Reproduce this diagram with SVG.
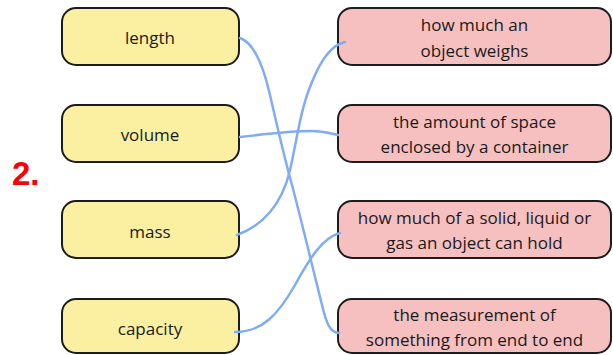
<svg xmlns="http://www.w3.org/2000/svg" width="613" height="355" viewBox="0 0 613 355">
<style>
.box{stroke:#1c1c1c;stroke-width:2}
.y{fill:#fbf0a2}
.p{fill:#f6c0c0}
.t{font-family:"Open Sans","Noto Sans",sans-serif;font-size:17px;fill:#1a1a1a;text-anchor:middle}
.c{fill:none;stroke:#80acf6;stroke-width:2.5;stroke-linecap:round}
</style>
<rect width="613" height="355" fill="#ffffff"/>
<text x="12" y="185" font-family="Liberation Sans, Arial, sans-serif" font-weight="bold" font-size="33" fill="#ff0000">2.</text>
<g id="n-length"><rect class="box y" x="62" y="8" width="177" height="57" rx="14"/><text class="t" x="150" y="44">length</text></g>
<g id="n-volume"><rect class="box y" x="62" y="105" width="177" height="57" rx="14"/><text class="t" x="150" y="141">volume</text></g>
<g id="n-mass"><rect class="box y" x="62" y="201" width="177" height="57" rx="14"/><text class="t" x="150" y="238">mass</text></g>
<g id="n-capacity"><rect class="box y" x="62" y="299" width="177" height="54" rx="14"/><text class="t" x="150" y="335">capacity</text></g>
<g id="d-weighs"><rect class="box p" x="338" y="8" width="273" height="57" rx="14"/><text class="t" x="474.5" y="31">how much an</text><text class="t" x="474.5" y="57">object weighs</text></g>
<g id="d-space"><rect class="box p" x="338" y="105" width="273" height="57" rx="14"/><text class="t" x="474.5" y="128">the amount of space</text><text class="t" x="474.5" y="153">enclosed by a container</text></g>
<g id="d-hold"><rect class="box p" x="338" y="201" width="273" height="57" rx="14"/><text class="t" x="474.5" y="224">how much of a solid, liquid or</text><text class="t" x="474.5" y="249">gas an object can hold</text></g>
<g id="d-end"><rect class="box p" x="338" y="299" width="273" height="54" rx="14"/><text class="t" x="474.5" y="321">the measurement of</text><text class="t" x="474.5" y="346">something from end to end</text></g>
<g id="connectors">
<path class="c" d="M240,38 C252,42 262,60 270,95 C278,130 285,160 292,185 C300,215 312,265 322,305 C326,322 330,333 339,333"/>
<path class="c" d="M240,137 C265,134 290,131 312,131 C325,131 332,134 338,135"/>
<path class="c" d="M237,235 C262,226 282,205 290,170 C297,140 300,110 312,82 C320,62 330,45 345,42"/>
<path class="c" d="M235,332 C262,332 278,315 295,285 C310,258 322,238 340,233"/>
</g>
</svg>
